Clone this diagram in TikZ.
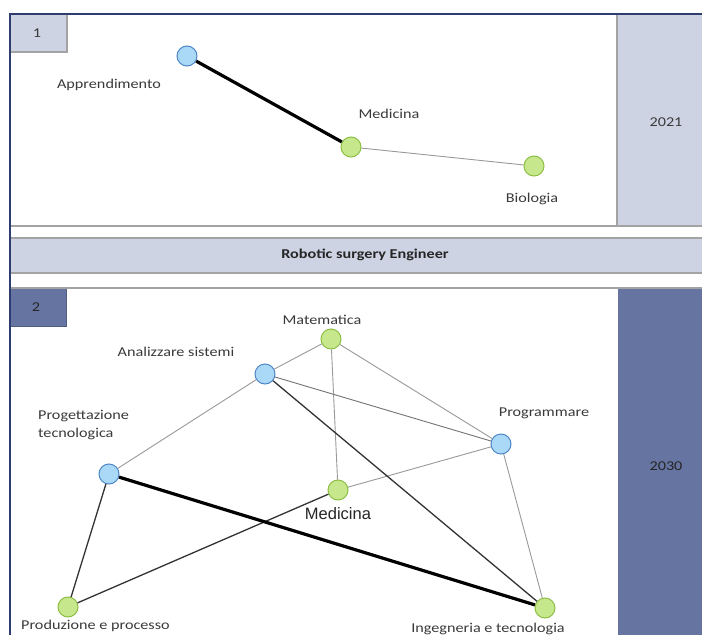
\documentclass[tikz,border=0pt]{standalone}
\usepackage{fontspec}
\setmainfont{Carlito}[FakeStretch=1.2]
\newfontfamily\arialfont{Liberation Sans}
\definecolor{lav}{HTML}{CDD3E3}
\definecolor{navy}{HTML}{6574A1}
\definecolor{nodeblue}{HTML}{A9D9F7}
\definecolor{nodeblueline}{HTML}{4F86C6}
\definecolor{nodegreen}{HTML}{C6E78C}
\definecolor{nodegreenline}{HTML}{8DBF45}
\definecolor{rulegrey}{HTML}{A3A3A3}
\definecolor{framenavy}{HTML}{2F3C6E}
\definecolor{labelgrey}{HTML}{3A3A3A}
\tikzset{
  skillnode/.style={circle, draw=nodeblueline, fill=nodeblue, line width=1pt, minimum size=20pt, inner sep=0pt},
  fieldnode/.style={circle, draw=nodegreenline, fill=nodegreen, line width=1pt, minimum size=20pt, inner sep=0pt},
  lbl/.style={text=labelgrey, font=\fontsize{13.5}{18}\selectfont, inner sep=0pt},
  yearlbl/.style={text=labelgrey, font=\fontsize{13.5}{16}\selectfont, inner sep=0pt},
  linkstrong/.style={line width=3.2pt, black},
  linkmedium/.style={line width=1.3pt, black!80},
  linkweak/.style={line width=0.9pt, black!40},
  panelrule/.style={draw=rulegrey, line width=1.6pt},
}
\begin{document}
\begin{tikzpicture}[x=1pt,y=-1pt]
\useasboundingbox (0,0) rectangle (702,635);
\fill[white] (0,0) rectangle (702,635);

% upper panel: time slice 2021
\fill[lav] (618,15) rectangle (702,226);
\draw[panelrule] (617,15) -- (617,226);
\draw[panelrule] (11,226) -- (702,226);
\fill[lav] (11,15) rectangle (67,52);
\draw[draw=rulegrey, line width=1.2pt] (67,15) -- (67,52) -- (11,52);
\node[yearlbl] (t1) at (37,33) {1};
\node[yearlbl] (y1) at (666,122) {2021};

% role band
\fill[lav] (11,238) rectangle (702,273);
\draw[panelrule] (11,238) -- (702,238);
\draw[panelrule] (11,273) -- (702,273);
\node[text=black!85, font=\fontsize{13.5}{16}\selectfont\bfseries, inner sep=0pt] (role) at (365,255) {Robotic surgery Engineer};

% lower panel: time slice 2030
\draw[panelrule] (11,288) -- (702,288);
\fill[navy] (618,289) rectangle (702,635);
\fill[navy] (11,289) rectangle (66,326);
\draw[draw=navy!80!black, line width=1pt] (66,289) -- (66,326) -- (11,326);
\node[text=black!85, font=\fontsize{13.5}{16}\selectfont, inner sep=0pt] (t2) at (36,307) {2};
\node[text=black!85, font=\fontsize{13.5}{16}\selectfont, inner sep=0pt] (y2) at (666,466) {2030};

% outer frame
\draw[framenavy, line width=1.2pt] (702,14) -- (10,14) -- (10,635);

% graph 2021
\node[skillnode]  (appr) at (187,56) {};
\node[fieldnode] (med1) at (351,147) {};
\node[fieldnode] (bio)  at (534,166) {};
\draw[linkstrong] (appr) -- (med1);
\draw[linkweak] (med1) -- (bio);
\node[lbl] at (109,85) {Apprendimento};
\node[lbl] at (389,114) {Medicina};
\node[lbl] at (532,199) {Biologia};

% graph 2030
\node[fieldnode] (mat)  at (331,339) {};
\node[skillnode]  (ana)  at (265,374) {};
\node[skillnode]  (prog) at (501,444) {};
\node[skillnode]  (proj) at (109,474) {};
\node[fieldnode] (med2) at (338,490) {};
\node[fieldnode] (prod) at (68,607) {};
\node[fieldnode] (ing)  at (545,608) {};

\draw[linkweak] (ana) -- (mat);
\draw[linkweak] (mat) -- (med2);
\draw[linkweak] (mat) -- (prog);
\draw[linkweak, black!55] (ana) -- (prog);
\draw[linkweak] (ana) -- (proj);
\draw[linkweak] (med2) -- (prog);
\draw[linkweak] (prog) -- (ing);
\draw[linkmedium] (ana) -- (ing);
\draw[linkmedium] (proj) -- (prod);
\draw[linkmedium] (prod) -- (med2);
\draw[linkstrong] (proj) -- (ing);

\node[lbl] at (322,320) {Matematica};
\node[lbl] at (176,352) {Analizzare sistemi};
\node[lbl] at (544,413) {Programmare};
\node[lbl, anchor=west, align=left] at (38,425) {Progettazione\\tecnologica};
\node[text=black!85, font=\arialfont\fontsize{16.5}{18}\selectfont, inner sep=0pt] at (338,514) {Medicina};
\node[lbl, anchor=west] at (21,626) {Produzione e processo};
\node[lbl] at (488,629) {Ingegneria e tecnologia};
\end{tikzpicture}
\end{document}
